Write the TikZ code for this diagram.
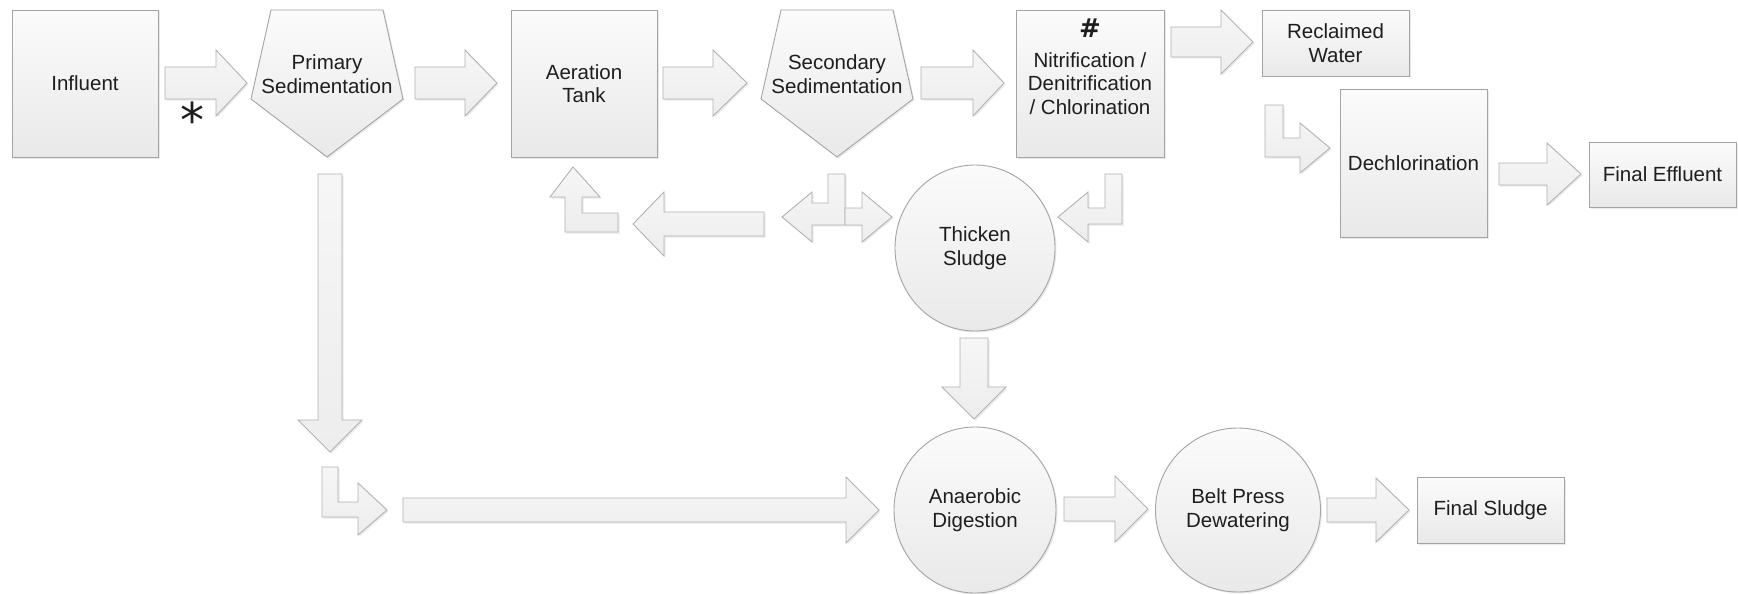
\documentclass[tikz,border=0pt]{standalone}
\usepackage{fontspec}
\setmainfont{Liberation Sans}
\newfontfamily\symfont{DejaVu Sans}
\usepackage{tikz}
\usetikzlibrary{calc,shapes.geometric,shadows}
\definecolor{edgec}{HTML}{A4A4A4}
\definecolor{arrc}{HTML}{B2B2B2}
\definecolor{topc}{HTML}{FBFBFB}
\definecolor{botc}{HTML}{E9E9E9}
\definecolor{atop}{HTML}{F6F6F6}
\definecolor{abot}{HTML}{EDEDED}
\definecolor{txtc}{HTML}{1E1E1E}
\tikzset{
  shd/.style={drop shadow={opacity=0.16,shadow xshift=1.5pt,shadow yshift=-1.5pt}},
  lbl/.style={align=center,text=txtc,inner sep=0pt,font=\fontsize{20.5}{23.5}\selectfont},
  box/.style={lbl,draw=edgec,line width=0.9pt,top color=topc,bottom color=botc,shd},
  ell/.style={box,ellipse},
  pent/.style={draw=edgec,line width=0.9pt,top color=topc,bottom color=botc,shd},
  blk/.style={draw=arrc,line width=0.9pt,top color=atop,bottom color=abot,shd}
}
% block arrows: tail, head base, tip, axis, body half, head half
\newcommand{\hblk}[6]{\draw[blk] (#1,#4-#5) -- (#2,#4-#5) -- (#2,#4-#6) -- (#3,#4) -- (#2,#4+#6) -- (#2,#4+#5) -- (#1,#4+#5) -- cycle;}
\newcommand{\vblk}[6]{\draw[blk] (#4-#5,#1) -- (#4-#5,#2) -- (#4-#6,#2) -- (#4,#3) -- (#4+#6,#2) -- (#4+#5,#2) -- (#4+#5,#1) -- cycle;}
\begin{document}
\begin{tikzpicture}[x=1pt,y=-1pt]
\fill[white] (0,0) rectangle (1738,594);
\useasboundingbox (0,0) rectangle (1738,594);

% units
\node[box,minimum width=146pt,minimum height=147pt] (infl) at (85,83.5) {Influent};
\draw[pent] (271,10) -- (383,10) -- (403,99) -- (327,157) -- (251,99) -- cycle;
\node[lbl] (prim) at (327,74) {Primary\\Sedimentation};
\node[box,minimum width=146pt,minimum height=147pt] (aer) at (584,83.5) {Aeration\\Tank};
\draw[pent] (781,10) -- (893,10) -- (913,99) -- (837,157) -- (761,99) -- cycle;
\node[lbl] (sec) at (837,74) {Secondary\\Sedimentation};
\node[box,minimum width=148pt,minimum height=147pt] (nitr) at (1090,83.5) {Nitrification /\\Denitrification\\/ Chlorination};
\node[lbl,anchor=north,font=\symfont\bfseries\fontsize{26}{26}\selectfont] (hash) at ($(nitr.north)+(0,9)$) {\#};
\node[box,minimum width=147pt,minimum height=66pt] (recl) at (1335.5,43) {Reclaimed\\Water};
\node[box,minimum width=147pt,minimum height=148pt] (dech) at (1413.5,163) {Dechlorination};
\node[box,minimum width=147pt,minimum height=65pt] (feff) at (1662.5,174.5) {Final Effluent};
\node[ell,minimum width=160pt,minimum height=166pt] (thk) at (975,248) {Thicken\\Sludge};
\node[ell,minimum width=162pt,minimum height=166pt] (anae) at (975,510) {Anaerobic\\Digestion};
\node[ell,minimum width=165pt,minimum height=164pt] (belt) at (1238,510) {Belt Press\\Dewatering};
\node[box,minimum width=147pt,minimum height=66pt] (fsl) at (1490.5,510) {Final Sludge};
\node[lbl,anchor=north,font=\symfont\fontsize{48}{48}\selectfont] (star) at (192,102) {*};

% straight arrows
\hblk{165}{216}{247}{83}{16}{33}
\hblk{415}{465}{497}{83}{16}{33}
\hblk{663}{713}{747}{83}{16}{33}
\hblk{921}{973}{1004}{83}{16}{33}
\hblk{1171}{1221}{1253}{42}{15}{32}
\hblk{1499}{1547}{1581}{174}{11}{31}
\hblk{764}{664}{633}{224}{12}{32}
\vblk{174}{420}{452}{330}{12}{32}
\vblk{338}{387}{419}{974}{14}{32}
\hblk{403}{846}{879}{510}{12}{33}
\hblk{1064}{1115}{1148}{509}{12}{33}
\hblk{1327}{1376}{1409}{510}{12}{32}

% bent arrows
\draw[blk] (1265,105) -- (1283,105) -- (1283,138) -- (1300,138) -- (1300,123) -- (1330,148)
  -- (1300,173) -- (1300,157) -- (1265,157) -- cycle;
\draw[blk] (573,167) -- (600,197) -- (582,197) -- (582,213) -- (618,213) -- (618,232)
  -- (565,232) -- (565,197) -- (550,197) -- cycle;
\draw[blk] (828,174) -- (845,174) -- (845,225) -- (812,225) -- (812,242) -- (782,217)
  -- (812,192) -- (812,203) -- (828,203) -- cycle;
\draw[blk] (845,208) -- (862,208) -- (862,192) -- (892,217) -- (862,242) -- (862,225)
  -- (845,225) -- cycle;
\draw[blk] (1105,174) -- (1122,174) -- (1122,224) -- (1088,224) -- (1088,242) -- (1058,217)
  -- (1088,192) -- (1088,208) -- (1105,208) -- cycle;
\draw[blk] (322,467) -- (338,467) -- (338,502) -- (358,502) -- (358,483) -- (387,510)
  -- (358,535) -- (358,517) -- (322,517) -- cycle;
\end{tikzpicture}
\end{document}
